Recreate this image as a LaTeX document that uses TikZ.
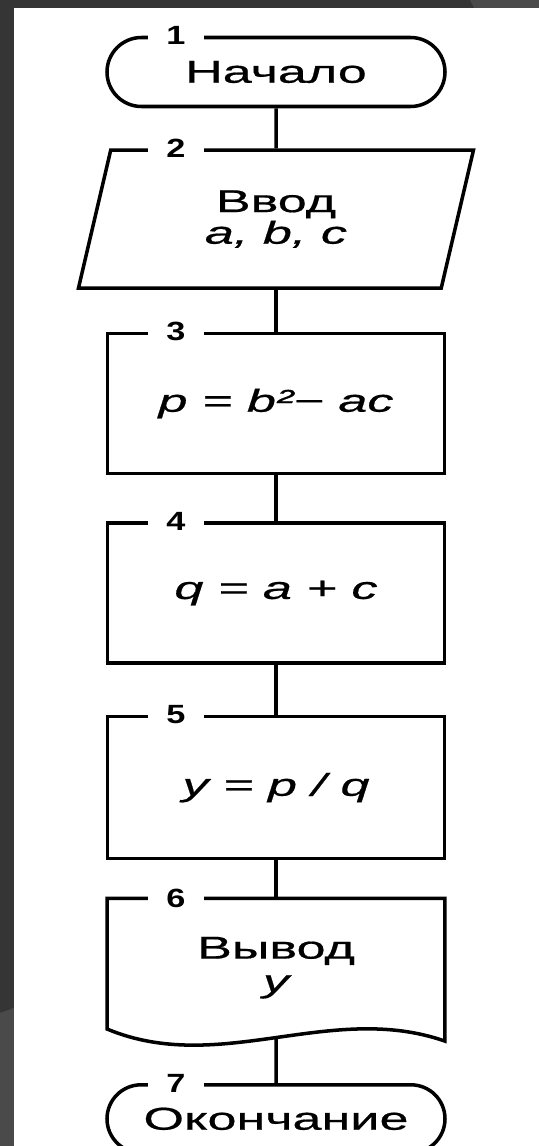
\documentclass[tikz,border=0pt]{standalone}
\usepackage{fontspec}
\setmainfont{Liberation Sans}
\newfontfamily\blockfont[FakeStretch=1.65, FakeBold=0.6]{Liberation Sans}
\newfontfamily\numfont[FakeStretch=1.3]{Liberation Sans}
\usepackage{tikz}
\usetikzlibrary{shapes.geometric, shapes.misc, positioning}

\definecolor{slidegray}{HTML}{353535}
\definecolor{slidelight}{HTML}{4A4A4A}

\begin{document}
\begin{tikzpicture}[
    node distance=0.8cm,
    terminal/.style={rounded rectangle, draw, line width=2pt, minimum width=6.76cm,
                     minimum height=1.38cm, inner sep=0pt, font=\blockfont\fontsize{18}{18}\selectfont},
    process/.style={rectangle, draw, line width=2pt, minimum width=6.74cm,
                    minimum height=2.8cm, align=center, font=\blockfont\itshape\fontsize{18}{18}\selectfont},
    io/.style={trapezium, trapezium left angle=65, trapezium right angle=115, trapezium stretches body,
               draw, line width=2pt, minimum width=7.9cm, minimum height=2.76cm,
               align=center, font=\blockfont\fontsize{18}{18}\selectfont},
    doc/.style={rectangle, minimum width=6.74cm, minimum height=2.76cm,
                align=center, font=\blockfont\fontsize{18}{19}\selectfont},
    num/.style={fill=white, inner xsep=0.36cm, inner ysep=1pt, font=\numfont\bfseries\fontsize{15}{15}\selectfont},
    link/.style={line width=2pt}
]
\useasboundingbox (0,0) rectangle (10.78,-22.92);
% slide background
\fill[slidegray] (0,0) rectangle (10.78,-22.92);
\fill[slidelight] (0,-20.26) -- (0.28,-20.16) -- (0.28,-22.92) -- (0,-22.92) -- cycle;
\fill[slidelight] (9.40,0) -- (10.78,0) -- (10.78,-0.16) -- (9.48,-0.16) -- cycle;
\fill[white] (0.28,-0.16) rectangle (10.78,-22.92);

\node[terminal] (start) at (5.52,-1.44) {Начало};
\node[io, below=0.8cm of start]      (input) {Ввод\\{\itshape a, b, c}};
\node[process, below=0.84cm of input] (calcp) {p = b²− ac};
\node[process, below=0.92cm of calcp] (calcq) {q = a + c};
\node[process, below=1.0cm of calcq, minimum height=2.84cm] (calcy) {y = p / q};
\node[doc, below=0.76cm of calcy]     (output) {Вывод\\{\itshape y}};
\node[terminal, below=0.92cm of output, minimum height=1.36cm] (stop) {Окончание};

% document shape with wavy bottom
\draw[link] (output.north west) -- (output.north east) -- ([yshift=-0.08cm]output.south east)
    .. controls +(-2.3,0.8) and +(2.26,-0.94) .. ([yshift=0.16cm]output.south west) -- cycle;

\foreach \from/\to in {start/input, input/calcp, calcp/calcq, calcq/calcy, calcy/output, output/stop}
    \draw[link] (\from) -- (\to);

% block numbers
\foreach \n/\blk in {1/start, 2/input, 3/calcp, 4/calcq, 5/calcy, 6/output, 7/stop}
    \node[num] (num\n) at ([xshift=-2cm]\blk.north) {\n};
\end{tikzpicture}
\end{document}
